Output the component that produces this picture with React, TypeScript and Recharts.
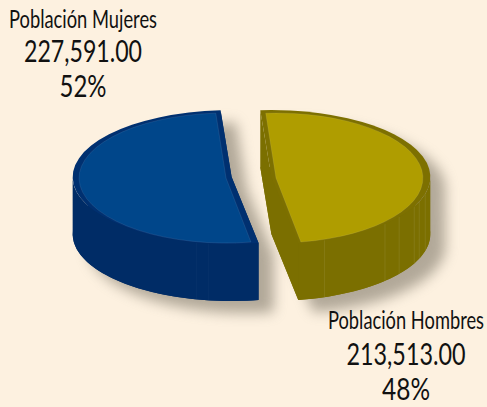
import React from "react";
import { PieChart, Pie, Cell } from "recharts";

const categories = ["Población Hombres", "Población Mujeres"];
const populationValues = [213513, 227591];
const percentLabels = ["48%", "52%"];

const chartData = categories.map((name, i) => ({ name, value: populationValues[i] }));

const W = 487;
const H = 407;
const BG = "#FDF1E0";
const OUTER = 159;
const RATIO = 67 / OUTER;
const EXPLODE = 20;
const DEPTH = 57;
const FACE_DX = [4.6, -5.6];
const FACE_RX = 147;
const FACE_RY = 65;
const FACE_DY = 1;

const FACE_COLORS = ["#AF9D00", "#00468A"];
const RIM_COLORS = ["#7D7000", "#003070"];
const WALL_COLORS = ["#7B6F00", "#002C66"];
const FACET_ANGLES = [
  [-70.5, -44.4, -36.5, -26, -21.5, -14.5],
  [-98.4, -102.8],
];

const LABEL_BOXES = [
  { cx: 406, widths: [156, 119, 48], ys: [329, 365, 400] },
  { cx: 83, widths: [148, 118, 47], ys: [28, 62, 97] },
];
const LABEL_SIZES = [25, 31, 31];
const LABEL_SCALES = [0.7, 0.85, 0.85];

const RAD = Math.PI / 180;
const pt = (cx: number, cy: number, rx: number, ry: number, deg: number): [number, number] => [
  cx + rx * Math.cos(deg * RAD),
  cy - ry * Math.sin(deg * RAD),
];
const sectorPath = (cx: number, cy: number, rx: number, ry: number, a0: number, a1: number) => {
  const p0 = pt(cx, cy, rx, ry, a0);
  const p1 = pt(cx, cy, rx, ry, a1);
  const large = Math.abs(a0 - a1) > 180 ? 1 : 0;
  return `M${cx},${cy}L${p0[0]},${p0[1]}A${rx},${ry} 0 ${large} 1 ${p1[0]},${p1[1]}Z`;
};

const centers = (props: any) => {
  const { cx, cy, midAngle } = props;
  return { ox: cx + EXPLODE * Math.cos(midAngle * RAD), oy: cy };
};

const wallPaths = (props: any) => {
  const { outerRadius, startAngle, endAngle } = props;
  const { ox, oy } = centers(props);
  const rx = outerRadius;
  const ry = outerRadius * RATIO;
  const bottom = sectorPath(ox, oy + DEPTH, rx, ry, startAngle, endAngle);
  const pS = pt(ox, oy, rx, ry, startAngle);
  const pE = pt(ox, oy, rx, ry, endAngle);
  const cuts = [pS, pE]
    .map((p) => `M${ox},${oy}L${p[0]},${p[1]}L${p[0]},${p[1] + DEPTH}L${ox},${oy + DEPTH}Z`)
    .join("");
  const visible: [number, number][] = [];
  const n = 90;
  const step = (endAngle - startAngle) / n;
  for (let k = 0; k <= n; k++) {
    const a = startAngle + step * k;
    if (Math.sin(a * RAD) <= 0.001) visible.push(pt(ox, oy, rx, ry, a));
  }
  const front = visible.map((p, i) => `${i ? "L" : "M"}${p[0]},${p[1]}`).join("");
  const back = visible
    .slice()
    .reverse()
    .map((p) => `L${p[0]},${p[1] + DEPTH}`)
    .join("");
  return [bottom, cuts, `${front}${back}Z`];
};

const ShadowShape = (props: any) => {
  const paths = wallPaths(props);
  const { ox, oy } = centers(props);
  const top = sectorPath(ox, oy, props.outerRadius, props.outerRadius * RATIO, props.startAngle, props.endAngle);
  return (
    <g transform="translate(15,12)" style={{ filter: "blur(6.5px)" }} opacity={0.65}>
      {[top, ...paths].map((d, i) => (
        <path key={i} d={d} fill="#8A8273" />
      ))}
    </g>
  );
};

const SliceShape = (props: any) => {
  const { index, outerRadius, startAngle, endAngle } = props;
  const { ox, oy } = centers(props);
  const rx = outerRadius;
  const ry = outerRadius * RATIO;
  const paths = wallPaths(props);
  const fx = ox + FACE_DX[index];
  const fy = oy + FACE_DY;
  return (
    <g>
      {paths.map((d, i) => (
        <path key={i} d={d} fill={WALL_COLORS[index]} />
      ))}
      {FACET_ANGLES[index].map((a) => {
        const p = pt(ox, oy, rx, ry, a);
        return (
          <line
            key={a}
            x1={p[0]}
            y1={p[1]}
            x2={p[0]}
            y2={p[1] + DEPTH}
            stroke="#FFFFFF"
            strokeOpacity={index === 0 ? 0.1 : 0.03}
            strokeWidth={0.8}
          />
        );
      })}
      <path d={sectorPath(ox, oy, rx, ry, startAngle, endAngle)} fill={RIM_COLORS[index]} />
      <path
        d={sectorPath(fx, fy, FACE_RX, FACE_RY, startAngle, endAngle)}
        fill={FACE_COLORS[index]}
        stroke="#FFFFFF"
        strokeOpacity={0.12}
        strokeWidth={0.7}
      />
    </g>
  );
};

const SliceLabel = (props: any) => {
  const { index, name, value } = props;
  const box = LABEL_BOXES[index];
  const lines = [
    name,
    value.toLocaleString("en-US", { minimumFractionDigits: 2, maximumFractionDigits: 2 }),
    percentLabels[index],
  ];
  return (
    <g>
      {lines.map((line: string, i: number) => (
        <text
          key={i}
          transform={`translate(${box.cx},${box.ys[i]}) scale(${LABEL_SCALES[i]},1)`}
          textAnchor="middle"
          fontFamily="Lato, 'Open Sans', sans-serif"
          fontSize={LABEL_SIZES[i]}
          fill="#111111"
          stroke="none"
          textLength={box.widths[i] / LABEL_SCALES[i]}
          lengthAdjust="spacingAndGlyphs"
        >
          {line}
        </text>
      ))}
    </g>
  );
};

export default function App() {
  return (
    <div style={{ position: "fixed", left: 0, top: 0, width: W, height: H, background: BG, overflow: "hidden" }}>
      <PieChart width={W} height={H} margin={{ top: 0, right: 0, bottom: 0, left: 0 }}>
        <Pie
          data={chartData}
          dataKey="value"
          nameKey="name"
          cx={251.5}
          cy={177}
          innerRadius={0}
          outerRadius={OUTER}
          startAngle={94}
          endAngle={-266}
          stroke="none"
          isAnimationActive={false}
          shape={ShadowShape}
        />
        <Pie
          data={chartData}
          dataKey="value"
          nameKey="name"
          cx={251.5}
          cy={177}
          innerRadius={0}
          outerRadius={OUTER}
          startAngle={94}
          endAngle={-266}
          stroke="none"
          isAnimationActive={false}
          shape={SliceShape}
          label={SliceLabel}
          labelLine={false}
        >
          {chartData.map((d) => (
            <Cell key={d.name} />
          ))}
        </Pie>
      </PieChart>
    </div>
  );
}
